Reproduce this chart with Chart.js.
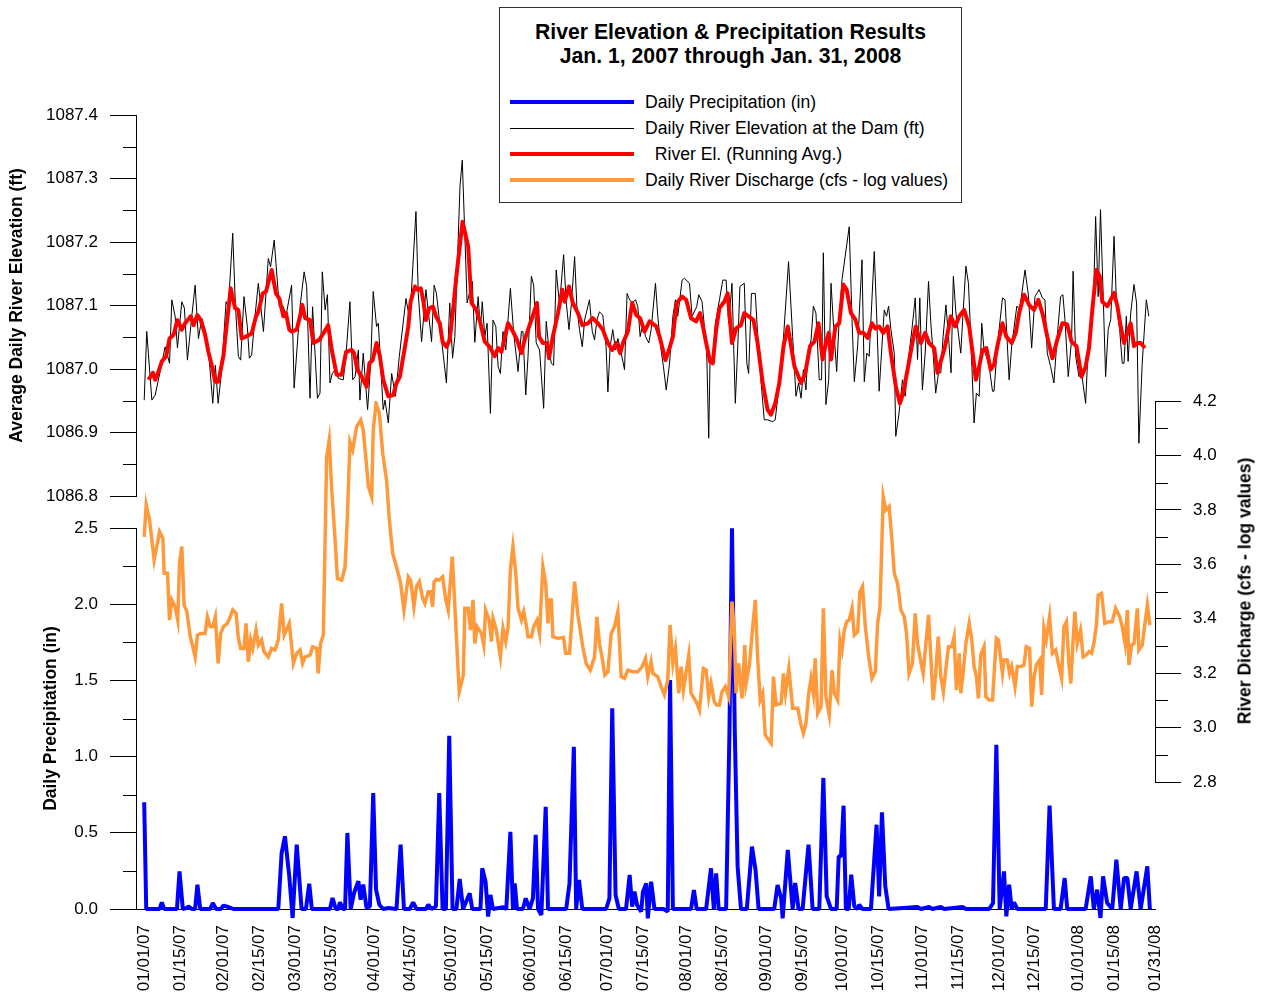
<!DOCTYPE html>
<html>
<head>
<meta charset="utf-8">
<title>River Elevation &amp; Precipitation Results</title>
<script src="https://cdn.jsdelivr.net/npm/chart.js@4.4.1/dist/chart.umd.min.js"></script>
<style>
  html, body { margin: 0; padding: 0; background: #fff; }
  #wrap { position: relative; width: 1263px; height: 992px; font-family: 'Liberation Sans', Arial, sans-serif; color: #000; }
  #chart { position: absolute; left: 0; top: 0; }
  .box { position: absolute; left: 499px; top: 7px; width: 461px; height: 194px; border: 1px solid #333; background: #fff; }
  .ttl { position: absolute; left: 499px; top: 20px; width: 463px; text-align: center; font-weight: bold; font-size: 21.2px; line-height: 24px; }
  .swatch { position: absolute; left: 510px; width: 124px; }
  .lbl { position: absolute; left: 645px; font-size: 17.6px; line-height: 20px; white-space: pre; }
  .rtitle { position: absolute; left: 1245px; top: 591px; transform: translate(-50%, -50%) rotate(-90deg); font-weight: bold; font-size: 17.5px; white-space: nowrap; }
</style>
</head>
<body>
<div id="wrap">
  <canvas id="chart" width="1263" height="992"></canvas>
  <div class="box"></div>
  <div class="ttl">River Elevation &amp; Precipitation Results<br>Jan. 1, 2007 through Jan. 31, 2008</div>
  <div class="swatch" style="top:100px;height:4px;background:#0000ff"></div>
  <div class="lbl" style="top:92px">Daily Precipitation (in)</div>
  <div class="swatch" style="top:128px;height:1px;background:#000"></div>
  <div class="lbl" style="top:118px">Daily River Elevation at the Dam (ft)</div>
  <div class="swatch" style="top:152px;height:4px;background:#ff0000"></div>
  <div class="lbl" style="top:144px">  River El. (Running Avg.)</div>
  <div class="swatch" style="top:178px;height:4px;background:#ff9a3c"></div>
  <div class="lbl" style="top:170px">Daily River Discharge (cfs - log values)</div>
  <div class="rtitle">River Dicharge (cfs - log values)</div>
</div>
<script>
// x values are days counted from Jan 1, 2007

const tickDays = [0, 14, 31, 45, 59, 73, 90, 104, 120, 134, 151, 165, 181, 195, 212, 226, 243, 257, 273, 287, 304, 318, 334, 348, 365, 379, 395];
const tickLabels = ['01/01/07', '01/15/07', '02/01/07', '02/15/07', '03/01/07', '03/15/07', '04/01/07', '04/15/07', '05/01/07', '05/15/07', '06/01/07', '06/15/07', '07/01/07', '07/15/07', '08/01/07', '08/15/07', '09/01/07', '09/15/07', '10/01/07', '10/15/07', '11/01/07', '11/15/07', '12/01/07', '12/15/07', '01/01/08', '01/15/08', '01/31/08'];

// daily river elevation at the dam (ft)
const elevationFt = [
  [0,1086.951],[1,1087.059],[3,1086.951],[4.3,1086.959],[6.9,1087.009],[8.2,1087.035],[9.9,1087.009],[10.8,1087.109],[12.1,1087.083],[13,1087.033],
  [14.7,1087.106],[15.7,1087.096],[16.9,1087.014],[18.6,1087.083],[19.9,1087.132],[21.2,1087.048],[22.5,1087.08],[23.8,1087.062],[25.1,1087.03],[26.8,1086.946],
  [27.8,1087.006],[28.9,1086.946],[30.3,1086.999],[32,1087.106],[32.9,1087.098],[34.6,1087.214],[35.6,1087.104],[36.8,1087.02],[37.7,1087.014],[39,1087.114],
  [40.3,1087.067],[41.1,1087.017],[42,1087.022],[43.3,1087.083],[44.6,1087.135],[46.6,1087.059],[48.5,1087.174],[49.4,1087.161],[50.8,1087.203],[52.8,1087.098],
  [54.4,1087.098],[55.4,1087.083],[57.6,1087.132],[58.6,1086.97],[60.9,1087.098],[62.5,1087.153],[63.5,1087.13],[64.8,1086.954],[65.8,1087.098],[67.7,1086.954],
  [68.7,1086.962],[69.6,1087.153],[70.7,1087.093],[71.6,1087.117],[72.6,1086.978],[73.5,1086.993],[74.6,1086.999],[75.9,1086.985],[77.8,1086.983],[78.9,1087.025],
  [80.4,1087.106],[81.5,1086.983],[82.4,1086.988],[83.7,1087.03],[84.3,1086.951],[85.6,1087.025],[87.3,1086.936],[88.5,1087.009],[89.5,1087.122],[90.8,1087.067],
  [91.5,1087.072],[93.4,1086.936],[94.1,1086.951],[95.4,1086.915],[96.7,1086.993],[98.2,1086.957],[99.7,1087.02],[102.3,1087.111],[103.8,1087.077],[106.2,1087.248],
  [107.1,1087.119],[108.4,1087.043],[110.1,1087.125],[112.3,1087.043],[113.3,1087.132],[114.2,1087.119],[116.2,1087.046],[118.1,1086.978],[119.4,1087.104],[120.5,1087.017],
  [121.4,1087.051],[123.4,1087.287],[124.3,1087.329],[126.2,1087.104],[128.2,1087.138],[129.2,1087.042],[130.5,1087.114],[131.4,1087.062],[132.1,1087.106],[133.1,1087.051],
  [134,1087.072],[135.3,1086.93],[136.3,1087.077],[137.4,1087.067],[138.3,1087.004],[139.2,1086.993],[140.2,1087.059],[141.3,1087.03],[143.1,1087.127],[144.4,1087.056],
  [146.1,1086.996],[147.4,1087.059],[148,1087.059],[149.1,1086.959],[150,1087.02],[151.3,1087.146],[152.2,1087.132],[153.2,1087.041],[154.5,1087.03],[156.1,1086.938],
  [157.1,1087.075],[158.2,1087.03],[159.1,1087.009],[160,1087.006],[161,1087.156],[162.3,1087.101],[163.9,1087.18],[164.9,1087.106],[166,1087.062],[166.9,1087.101],
  [168.2,1087.177],[169.1,1087.098],[170.1,1087.062],[171.2,1087.035],[172.1,1087.077],[174,1087.109],[175.1,1087.059],[176,1087.046],[176.9,1087.077],[177.9,1087.09],
  [179.2,1087.085],[180.5,1087.035],[181.2,1086.964],[182.1,1087.035],[183.1,1087.062],[184.2,1087.03],[185.1,1087.048],[186.4,1087.025],[187.7,1086.999],[188.7,1087.119],
  [189.7,1087.109],[190.7,1087.104],[192,1087.109],[192.9,1087.098],[193.8,1087.051],[194.9,1087.072],[195.9,1087.051],[197.2,1087.041],[198.1,1087.062],[199.8,1087.135],
  [200.7,1087.083],[202,1087.03],[202.9,1087.004],[204,1086.967],[205.3,1087.009],[206.6,1087.083],[207.6,1087.109],[208.5,1087.083],[210.2,1087.14],[211.1,1087.143],
  [213.1,1087.135],[214.1,1087.083],[215.9,1087.098],[216.7,1087.117],[218,1087.106],[218.9,1087.067],[219.8,1087.03],[220.6,1086.891],[221.1,1087.009],[222.2,1087.014],
  [223.2,1087.072],[224.8,1087.109],[226.1,1087.14],[227.4,1087.14],[228.4,1087.072],[229.7,1087.135],[230.4,1087.03],[231,1086.946],[231.9,1087.03],[232.8,1087.13],
  [234.5,1087.135],[235.5,1087.009],[236.2,1086.993],[237.3,1087.119],[238.8,1087.119],[239.7,1087.056],[241.1,1086.978],[242.3,1086.92],[243.6,1086.92],[245.6,1086.917],
  [246.6,1086.92],[247.9,1086.967],[249.5,1087.03],[251.8,1087.169],[253.4,1087.051],[254.7,1086.957],[255.7,1086.978],[256.7,1086.954],[257.6,1086.999],[258.6,1086.967],
  [259.3,1087.025],[260.6,1087.046],[261.5,1087.099],[262.5,1087.088],[263.8,1086.983],[264.7,1086.983],[265.4,1087.183],[266.4,1086.944],[267.5,1086.983],[268.4,1087.135],
  [269.4,1087.067],[270.6,1086.996],[271.6,1087.078],[272.7,1087.141],[275.5,1087.224],[276.6,1087.078],[277.5,1086.98],[278.8,1087.036],[280.5,1087.172],[281.4,1086.98],
  [282.4,1087.025],[283.3,1087.02],[285.3,1087.185],[286.2,1087.088],[287.2,1086.965],[288.3,1087.036],[289.2,1087.093],[290.1,1087.083],[290.9,1087.099],[291.8,1087.062],
  [293.1,1087.025],[293.7,1086.894],[295,1086.931],[296.3,1086.983],[297.4,1086.957],[298.3,1087.004],[300,1087.062],[301.3,1087.112],[302.2,1087.015],[303.1,1087.112],
  [304.1,1086.967],[305.2,1087.025],[306.5,1087.138],[307.4,1087.072],[308.3,1087.025],[309.3,1086.962],[310.4,1086.994],[311.3,1086.994],[312.2,1087.051],[313.3,1087.101],
  [314.3,1087.051],[315.3,1086.994],[316.2,1087.146],[317.2,1087.088],[319.1,1087.025],[320,1087.088],[321.1,1087.162],[322.1,1087.135],[323,1087.051],[324.3,1086.915],
  [325.2,1086.962],[326.3,1086.957],[327.3,1087.072],[328.2,1087.03],[329.1,1087.02],[330.2,1087.004],[331.5,1086.965],[332.1,1086.965],[333.4,1087.036],[335.4,1087.112],
  [336.4,1087.109],[338,1086.983],[339,1087.036],[341,1087.099],[342.1,1087.093],[344.2,1087.156],[345.5,1087.117],[346.8,1087.033],[348.1,1087.114],[349.7,1087.125],
  [351,1087.112],[352,1087.109],[352.9,1087.025],[354.2,1087.004],[355.5,1086.978],[356.8,1087.051],[358.1,1087.114],[359,1087.117],[359.8,1087.078],[361.1,1086.988],
  [362.4,1087.046],[363,1087.154],[364,1087.02],[365.3,1086.988],[366.3,1086.994],[367.9,1086.946],[368.9,1087.036],[370.2,1087.088],[371.1,1087.13],[371.8,1087.24],
  [372.8,1087.114],[373.7,1087.251],[374.8,1087.109],[375.7,1086.988],[376.7,1087.062],[377.7,1087.078],[379,1087.209],[380,1087.099],[381.2,1087.062],[382.2,1087.009],
  [382.9,1087.009],[383.8,1087.083],[384.5,1087.012],[385.5,1087.088],[386.8,1087.133],[387.8,1087.104],[388.7,1086.883],[390,1087.009],[391.6,1087.109],[392.6,1087.083]
];

// running average of river elevation (ft)
const runningAvgFt = [
  [1.7,1086.983],[3.4,1086.994],[4.3,1086.983],[5.6,1086.996],[6.9,1087.012],[8.6,1087.02],[9.9,1087.048],[11.5,1087.054],[13,1087.077],[14.7,1087.062],
  [16,1087.072],[18.2,1087.083],[19.3,1087.069],[20.8,1087.085],[22.1,1087.077],[23.8,1087.054],[25.1,1087.027],[26.8,1086.999],[27.7,1086.98],[29,1086.98],
  [31,1087.022],[32.3,1087.072],[33.8,1087.127],[35.5,1087.096],[36.8,1087.093],[38.1,1087.048],[39.8,1087.051],[42,1087.056],[43.7,1087.083],[44.6,1087.09],
  [46.3,1087.119],[47.6,1087.122],[49.8,1087.156],[51.5,1087.119],[52.8,1087.111],[54.4,1087.083],[55.4,1087.088],[56.7,1087.062],[57.6,1087.059],[59.6,1087.062],
  [60.9,1087.083],[61.8,1087.101],[62.9,1087.08],[64.8,1087.077],[66.1,1087.041],[67.1,1087.043],[68.4,1087.046],[69.7,1087.054],[71.9,1087.069],[73.3,1087.03],
  [75.2,1086.991],[77.2,1086.991],[78.9,1087.027],[81.1,1087.03],[82,1087.025],[83.3,1086.999],[85,1086.988],[86.9,1086.972],[88,1087.009],[89.3,1087.014],
  [90.8,1087.041],[92.1,1087.02],[93.4,1086.983],[95.4,1086.957],[97.3,1086.959],[98.6,1086.978],[99.9,1086.988],[101.9,1087.035],[103.2,1087.067],[104.1,1087.106],
  [105.8,1087.13],[106.8,1087.125],[108.1,1087.127],[109,1087.109],[110.1,1087.077],[111.4,1087.096],[112.9,1087.098],[114,1087.083],[115.5,1087.072],[116.6,1087.043],
  [118.1,1087.035],[119.4,1087.046],[120.7,1087.093],[122,1087.146],[124.4,1087.232],[126.6,1087.193],[127.9,1087.104],[129.8,1087.093],[131.4,1087.072],[133.1,1087.043],
  [135,1087.035],[137,1087.02],[138.3,1087.033],[139.6,1087.027],[142.2,1087.072],[144.1,1087.059],[145.7,1087.046],[147.4,1087.025],[148.7,1087.046],[150.6,1087.069],
  [152.2,1087.088],[153.5,1087.104],[154.3,1087.051],[155.8,1087.041],[157.4,1087.041],[158.2,1087.017],[159.7,1087.051],[161.7,1087.088],[163.4,1087.125],[164.3,1087.106],
  [166,1087.13],[167.5,1087.104],[169.5,1087.088],[171.2,1087.069],[173.4,1087.072],[175.3,1087.08],[177.3,1087.072],[179.2,1087.062],[181.2,1087.041],[182.9,1087.03],
  [184.5,1087.041],[186,1087.025],[187.1,1087.041],[189,1087.059],[190.7,1087.104],[192.3,1087.085],[193.8,1087.08],[195.5,1087.059],[197.5,1087.075],[200.1,1087.067],
  [201.4,1087.051],[203.7,1087.014],[205.3,1087.033],[206.6,1087.051],[208.1,1087.104],[210.2,1087.114],[211.8,1087.109],[213.7,1087.08],[215.7,1087.075],[217.2,1087.088],
  [218.5,1087.064],[219.6,1087.041],[221.1,1087.012],[222.2,1087.009],[223.5,1087.062],[224.8,1087.096],[226.7,1087.106],[228,1087.119],[229.7,1087.041],[231.3,1087.064],
  [233.2,1087.069],[234.5,1087.088],[236.2,1087.083],[238.1,1087.077],[239.7,1087.041],[241.7,1086.978],[243.6,1086.936],[244.9,1086.928],[246.6,1086.946],[248.2,1086.978],
  [249.8,1087.035],[251.5,1087.067],[254.1,1087.004],[256.7,1086.978],[258.3,1086.993],[260.2,1087.036],[261.9,1087.043],[263.5,1087.072],[265.1,1087.015],[266.4,1087.041],
  [267.5,1087.057],[268.4,1087.015],[270.1,1087.067],[271.6,1087.072],[273.2,1087.133],[274.5,1087.125],[276.2,1087.088],[277.9,1087.078],[279.4,1087.057],[281,1087.057],
  [282.7,1087.049],[284.4,1087.072],[285.7,1087.064],[287.2,1087.067],[288.8,1087.057],[290.5,1087.067],[291.8,1087.025],[293.7,1086.973],[295.3,1086.946],[296.6,1086.962],
  [298.3,1086.999],[300.2,1087.041],[301.5,1087.067],[303.5,1087.041],[305.2,1087.057],[306.7,1087.041],[308.7,1087.033],[310,1086.994],[311.3,1087.012],[313,1087.036],
  [315.2,1087.083],[316.9,1087.067],[318.5,1087.083],[320.4,1087.093],[322.4,1087.067],[323.9,1087.02],[325,1086.983],[326.3,1087.004],[327.6,1087.03],[329.1,1087.033],
  [330.8,1086.999],[332.1,1087.007],[333.4,1087.036],[335.4,1087.072],[336.9,1087.051],[339,1087.041],[340.6,1087.057],[341.9,1087.088],[343.8,1087.117],[345.8,1087.101],
  [347.7,1087.093],[349.4,1087.109],[351.2,1087.085],[352.9,1087.051],[354.9,1087.017],[356.8,1087.046],[358.8,1087.072],[360.7,1087.07],[362.4,1087.043],[364.3,1087.036],
  [366.3,1086.988],[367.9,1087.004],[369.2,1087.033],[370.5,1087.093],[372.1,1087.156],[373.4,1087.146],[374.4,1087.106],[376.4,1087.099],[377.7,1087.109],[379,1087.12],
  [380.3,1087.099],[381.6,1087.067],[382.9,1087.041],[384.2,1087.057],[385.5,1087.072],[386.8,1087.036],[388.1,1087.041],[389.4,1087.041],[391.1,1087.033]
];

// daily river discharge, log10 of cfs
const dischargeLog = [
  [0,3.701],[0.8,3.818],[2.1,3.763],[3.9,3.616],[6,3.72],[7.3,3.695],[7.8,3.567],[9.1,3.567],[9.9,3.395],[10.8,3.469],
  [12.1,3.444],[13.1,3.395],[13.8,3.603],[14.7,3.665],[15.6,3.45],[16.7,3.426],[18,3.334],[19,3.297],[19.9,3.26],[20.8,3.34],
  [22.1,3.346],[23.8,3.346],[24.7,3.407],[25.8,3.371],[26.8,3.371],[27.8,3.407],[28.9,3.236],[29.9,3.346],[31,3.371],[32.5,3.383],
  [33.6,3.407],[34.6,3.432],[35.9,3.42],[36.8,3.328],[37.7,3.291],[39,3.291],[39.8,3.383],[40.7,3.242],[41.6,3.322],[42.4,3.291],
  [43.7,3.358],[44.6,3.303],[45.9,3.322],[46.8,3.279],[48.5,3.26],[49.8,3.291],[51.1,3.285],[52.4,3.322],[53.7,3.456],[54.7,3.34],
  [56.7,3.383],[58.3,3.236],[59.6,3.273],[60.9,3.285],[61.9,3.236],[62.9,3.26],[64.8,3.266],[65.8,3.297],[67.4,3.291],[68,3.199],
  [68.9,3.309],[70,3.34],[71.3,3.995],[72.3,4.057],[73.3,3.873],[74.6,3.689],[75.5,3.548],[77.2,3.542],[78.5,3.591],[79.4,3.775],
  [80.4,4.05],[81.5,4.02],[83,4.106],[84.6,4.13],[85.6,4.093],[86.7,3.983],[87.6,3.885],[88.9,3.848],[89.5,4.093],[90.6,4.191],
  [91.9,4.155],[93.2,4.008],[94.7,3.91],[95.8,3.763],[97.1,3.64],[98.6,3.591],[100.2,3.53],[101.5,3.432],[103.2,3.554],[104.1,3.542],
  [105.4,3.444],[106.4,3.518],[107.5,3.536],[108.8,3.475],[109.7,3.456],[111,3.499],[111.9,3.499],[112.7,3.444],[113.3,3.536],[114.2,3.545],
  [115.3,3.542],[116.6,3.554],[117.9,3.469],[118.8,3.432],[120.4,3.628],[121.4,3.444],[123.1,3.132],[124.7,3.193],[125.3,3.438],[126.6,3.438],
  [127.5,3.358],[128.5,3.469],[129.2,3.309],[130.1,3.371],[131.8,3.346],[132.7,3.303],[133.4,3.432],[134.8,3.395],[135.7,3.316],[136.3,3.401],
  [137.6,3.358],[139.2,3.26],[140.2,3.365],[141.3,3.316],[142.2,3.371],[143.1,3.579],[144.1,3.665],[145.2,3.567],[146.1,3.438],[147.4,3.395],
  [148.3,3.426],[149.3,3.377],[150,3.334],[151.3,3.334],[152.2,3.371],[153.5,3.395],[154.5,3.346],[155.8,3.591],[156.9,3.53],[157.8,3.383],
  [158.2,3.469],[159.1,3.469],[159.7,3.334],[161.7,3.328],[163.9,3.331],[164.7,3.273],[166.2,3.273],[168.2,3.536],[169.5,3.413],[171.4,3.297],
  [172.7,3.236],[174.3,3.211],[176,3.26],[176.9,3.407],[177.9,3.309],[179,3.254],[180,3.193],[181.2,3.205],[182.5,3.346],[183.8,3.371],
  [185.1,3.426],[186.4,3.187],[187.7,3.181],[189,3.211],[191,3.205],[192.9,3.205],[194.6,3.224],[195.9,3.254],[196.8,3.187],[198.1,3.242],
  [198.8,3.199],[200.7,3.187],[202,3.15],[203.3,3.12],[204.6,3.175],[205.5,3.377],[206.6,3.236],[207.6,3.291],[208.9,3.126],[209.8,3.224],
  [210.7,3.138],[212.8,3.266],[213.7,3.126],[215.7,3.095],[217,3.064],[218.5,3.217],[219.6,3.211],[220.6,3.113],[221.5,3.162],[222.8,3.095],
  [223.7,3.083],[224.8,3.083],[225.8,3.132],[227.1,3.15],[228.4,3.113],[229.7,3.463],[230.6,3.358],[231.3,3.126],[232.3,3.236],[233.6,3.107],
  [234.7,3.303],[235.2,3.162],[236.5,3.23],[237.8,3.371],[238.8,3.469],[239.7,3.26],[240.7,3.101],[241.7,3.126],[242.7,2.972],[245,2.942],
  [245.9,3.187],[246.9,3.083],[248.9,3.089],[249.8,3.199],[250.6,3.126],[251.9,3.217],[253.4,3.071],[255.4,3.071],[256.7,3.009],[257.6,2.979],
  [258.6,3.015],[259.6,3.12],[260.6,3.181],[261.5,3.126],[262.2,3.254],[263.2,3.052],[264.5,3.077],[265.4,3.438],[266.4,3.113],[267.7,3.046],
  [268.8,3.211],[269.7,3.126],[271,3.101],[271.9,3.322],[272.7,3.285],[273.6,3.358],[274.5,3.389],[275.5,3.395],[276.6,3.438],[277.5,3.34],
  [278.8,3.352],[279.7,3.499],[280.7,3.518],[281.8,3.371],[283.1,3.261],[284.4,3.181],[285.7,3.205],[286.6,3.383],[287.5,3.438],[288.8,3.848],
  [289.8,3.799],[291.1,3.812],[292.2,3.689],[293.1,3.567],[294.4,3.53],[295.7,3.432],[297,3.407],[297.9,3.346],[298.9,3.199],[300.2,3.236],
  [301.3,3.42],[302.2,3.309],[303.5,3.242],[304.4,3.199],[306.5,3.414],[307.4,3.26],[308.3,3.101],[309.3,3.199],[310.3,3.334],[311.3,3.187],
  [312.3,3.132],[313.3,3.218],[314.3,3.297],[315.6,3.297],[316.5,3.334],[317.4,3.138],[318.5,3.273],[319.1,3.126],[320,3.199],[321.1,3.309],
  [322.4,3.383],[323.4,3.322],[324.3,3.224],[325.2,3.187],[326,3.107],[326.9,3.267],[328.2,3.297],[328.9,3.113],[330.2,3.101],[331.5,3.101],
  [333,3.328],[333.8,3.322],[335.4,3.199],[336,3.248],[337.3,3.248],[338.2,3.199],[339,3.224],[340.3,3.15],[341.2,3.224],[342.5,3.224],
  [343.8,3.23],[344.7,3.297],[346,3.291],[346.8,3.077],[347.7,3.181],[348.6,3.23],[349.9,3.248],[350.7,3.12],[351.6,3.365],[352.5,3.322],
  [353.8,3.407],[354.9,3.273],[356.2,3.285],[357.5,3.224],[358.5,3.181],[359.4,3.371],[360.4,3.389],[361.4,3.23],[362.1,3.162],[363,3.322],
  [363.7,3.426],[364.6,3.309],[365.9,3.358],[366.9,3.26],[368.2,3.267],[369.2,3.279],[370.2,3.273],[371.1,3.309],[372.1,3.377],[372.8,3.487],
  [374.1,3.493],[375.4,3.383],[377,3.389],[378.3,3.389],[379.6,3.438],[381.2,3.407],[382.2,3.371],[383.3,3.309],[384.2,3.432],[384.8,3.23],
  [385.9,3.303],[386.8,3.309],[388.1,3.438],[388.7,3.285],[390,3.303],[392,3.45],[393,3.377]
];

// daily precipitation (in)
const precipIn = [
  [0,0.70],[0.8,0],[6,0],[6.9,0.044],[7.8,0],[12.8,0],[13.8,0.247],[15.1,0],[16.7,0.007],[17.3,0.017],
  [18.6,0],[19.9,0],[20.8,0.16],[21.9,0],[25.8,0],[26.8,0.039],[28.1,0],[29.9,0],[31,0.022],[32.9,0.013],
  [34.9,0],[52.4,0],[53.7,0.367],[55,0.477],[56.7,0.214],[58,-0.059],[59.6,0.422],[61.5,0],[63.2,0],[64.5,0.166],
  [65.5,0],[72.6,0],[73.6,0.072],[74.9,0],[75.9,0],[76.5,0.044],[77.8,0],[78.5,0],[79.4,0.499],[80.7,0],
  [82,0.105],[83.7,0.182],[84.6,0.061],[85.6,0.16],[86.9,0.007],[88.2,0.017],[89.5,0.761],[90.6,0.127],[91.9,0.028],[93.4,0],
  [95.4,0.007],[98.6,0],[100.2,0.422],[101.5,0],[103.8,0],[105.1,0.044],[106.4,0],[110.1,0],[111,0.028],[112.3,0],
  [114,0.017],[115.3,0.761],[116.6,0],[117.9,0],[119.2,1.137],[120.5,0],[122,0],[123.3,0.197],[124.6,0],[127.2,0.103],
  [128.2,0],[131.4,0],[132.1,0.267],[133.4,0.179],[134.4,-0.05],[135.3,0.092],[136.3,0],[140.2,0.011],[141.5,0],[143.1,0.507],
  [144.1,0],[144.8,0.168],[145.7,0],[148,0],[149.1,0.07],[150.6,0],[151.9,0.07],[153,0.486],[153.9,0],[155.2,-0.039],
  [156.9,0.671],[157.8,0],[164.9,0],[166.2,0.168],[167.9,1.065],[168.8,0],[169.9,0.19],[171.2,0],[180.5,0],[181.8,0.07],
  [182.9,1.317],[184.2,0.092],[185.5,0],[188.3,0],[189.7,0.223],[190.7,0.015],[191.6,0.114],[192.6,0.026],[194.2,-0.017],[194.9,0.114],
  [196.2,0.168],[196.8,-0.061],[198.1,0.179],[199.4,0],[202.9,0],[204.6,-0.017],[205.5,1.503],[206.6,0],[213.7,0],[214.8,0.125],
  [215.9,0],[219.6,0],[221.5,0.267],[222.6,0],[223.5,0.234],[224.5,0],[227.4,0],[228.7,1.153],[229.7,2.498],[230.8,1.153],
  [231.9,0.278],[233.2,0],[235.5,0],[237.5,0.409],[238.9,0.256],[240.1,0],[246.2,0],[247.5,0.157],[248.9,0.07],[249.5,-0.061],
  [251.5,0.387],[253.4,0],[254.4,0.171],[255.7,0],[257.3,0],[259.6,0.422],[261.2,0],[263.8,0],[265.4,0.86],[266.7,0.083],
  [268.4,0],[270.6,0],[271.4,0.346],[272.3,0.346],[273.3,0.678],[274.2,0],[275.3,0],[276.3,0.225],[277.5,0.017],[278.8,0],
  [279.4,0.028],[280.7,0],[284,0],[286.2,0.553],[287.2,0.083],[288.3,0.634],[289.6,0.149],[290.9,0],[302.2,0.013],[303.5,0],
  [306.7,0.013],[308,0],[311.3,0.013],[312.6,0],[319.8,0.013],[321.1,0],[330.2,0],[331.7,0.039],[333,1.078],[334.3,0],
  [336,0.247],[336.9,-0.048],[338,0.16],[339,0],[339.9,0.044],[341.2,0],[352.3,0],[353.8,0.678],[355.5,0],[358.1,0],
  [359.7,0.203],[360.7,0],[367.9,0],[369.9,0.214],[371.1,0],[372.4,0.127],[373.7,-0.059],[374.7,0.214],[376.3,0.039],[378.3,0],
  [379.9,0.324],[381.6,0],[382.9,0.203],[384.2,0.203],[385.5,0],[387.8,0.247],[389.4,0],[392,0.28],[393,0]
];

const FONT = "'Liberation Sans', Arial, sans-serif";
const toXY = pts => pts.map(p => ({ x: p[0], y: p[1] }));

// short unlabeled ticks halfway between the labeled ones
const minorTicks = {
  id: 'minorTicks',
  afterDraw(chart) {
    const ctx = chart.ctx;
    ctx.save();
    ctx.strokeStyle = '#000';
    ctx.lineWidth = 1;
    ['yElev', 'yRain', 'yFlow'].forEach(id => {
      const s = chart.scales[id];
      const vals = s.ticks.map(t => t.value);
      const left = s.options.position === 'left';
      const x0 = left ? s.right : s.left;
      const x1 = left ? x0 - 13 : x0 + 13;
      for (let i = 0; i < vals.length - 1; i++) {
        const y = Math.round(s.getPixelForValue((vals[i] + vals[i + 1]) / 2)) + 0.5;
        ctx.beginPath();
        ctx.moveTo(x0, y);
        ctx.lineTo(x1, y);
        ctx.stroke();
      }
    });
    ctx.restore();
  }
};

function valueAxis(position, weight, min, max, step, title, titlePad) {
  return {
    type: 'linear',
    position,
    stack: position,
    stackWeight: weight,
    min, max,
    ticks: { stepSize: step, padding: 12, color: '#000', font: { family: FONT, size: 17 }, callback: v => v.toFixed(1) },
    grid: { drawOnChartArea: false, tickLength: 26, color: '#000', tickColor: '#000' },
    border: { display: true, color: '#000', width: 1 },
    title: title ? { display: true, text: title, color: '#000', font: { family: FONT, size: 17.5, weight: 'bold' }, padding: { top: titlePad, bottom: 0 } } : { display: false },
    afterFit: s => { s.width = position === 'left' ? 136 : 108; }
  };
}

function spacerAxis(position, weight) {
  return {
    type: 'linear',
    position,
    stack: position,
    stackWeight: weight,
    ticks: { display: false },
    grid: { display: false },
    border: { display: false },
    afterFit: s => { s.width = position === 'left' ? 136 : 108; }
  };
}

new Chart(document.getElementById('chart'), {
  type: 'line',
  data: {
    datasets: [
      { label: 'River El. (Running Avg.)', data: toXY(runningAvgFt), yAxisID: 'yElev', borderColor: '#ff0000', borderWidth: 4, borderJoinStyle: 'round', pointRadius: 0, tension: 0 },
      { label: 'Daily River Elevation at the Dam (ft)', data: toXY(elevationFt), yAxisID: 'yElev', borderColor: '#000000', borderWidth: 1, pointRadius: 0, tension: 0 },
      { label: 'Daily River Discharge (cfs - log values)', data: toXY(dischargeLog), yAxisID: 'yFlow', borderColor: '#ff9a3c', borderWidth: 3.5, pointRadius: 0, tension: 0 },
      { label: 'Daily Precipitation (in)', data: toXY(precipIn), yAxisID: 'yRain', borderColor: '#0000ff', borderWidth: 4, borderJoinStyle: 'bevel', pointRadius: 0, tension: 0, clip: false }
    ]
  },
  options: {
    responsive: false,
    animation: false,
    devicePixelRatio: 1,
    layout: { padding: { top: 115, left: 0, right: 0, bottom: 0 } },
    plugins: { legend: { display: false }, tooltip: { enabled: false } },
    scales: {
      x: {
        type: 'linear',
        min: -3.2,
        max: 395,
        afterBuildTicks: s => { s.ticks = tickDays.map(v => ({ value: v })); },
        ticks: {
          autoSkip: false, minRotation: 90, maxRotation: 90, padding: 8, color: '#000',
          font: { family: FONT, size: 17 },
          callback: v => tickLabels[tickDays.indexOf(v)]
        },
        grid: { display: false },
        border: { display: true, color: '#000', width: 1 },
        afterFit: s => { s.height = 83; }
      },
      yRain: valueAxis('left', 381, 0, 2.5, 0.5, 'Daily Precipitation (in)', 41),
      yGap: spacerAxis('left', 32),
      yElev: valueAxis('left', 381, 1086.8, 1087.4, 0.1, 'Average Daily River Elevation (ft)', 7),
      yTop: spacerAxis('right', 286),
      yFlow: valueAxis('right', 381, 2.8, 4.2, 0.2, null, 0),
      yBot: spacerAxis('right', 127)
    }
  },
  plugins: [minorTicks]
});
</script>
</body>
</html>
